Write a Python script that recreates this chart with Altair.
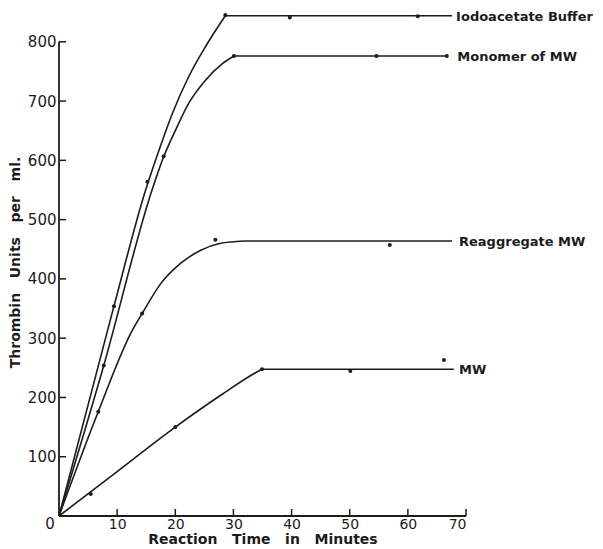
import altair as alt
import pandas as pd

# ---- data ----
SERIES = ["Iodoacetate Buffer", "Monomer of MW", "Reaggregate MW", "MW"]

# rising part of each curve (knots)
IODO_RISE_X = [0, 9.45, 14.9, 17.2, 19.5, 22.3, 25.2, 28.6]
IODO_RISE_Y = [0, 354, 550, 617, 679, 741, 792, 844]
MONO_RISE_X = [0, 7.7, 16.0, 18.0, 20.05, 22.3, 25.2, 28.1, 30.1]
MONO_RISE_Y = [0, 254, 550, 606, 651, 696, 735, 763, 776]
REAG_RISE_X = [0, 6.75, 12.6, 14.3, 17.5, 20.9, 24.3, 27.8, 31.8]
REAG_RISE_Y = [0, 176, 313, 341.5, 392, 426, 448, 460, 464]
MW_RISE_X = [0, 10, 20, 28, 33.5, 34.9]
MW_RISE_Y = [0, 75, 150, 205, 240, 247.5]

# plateau of each curve
PLATEAU_START_X = [28.6, 30.1, 31.8, 34.9]
PLATEAU_END_X = [67.6, 66.7, 67.6, 67.9]
PLATEAU_Y = [844, 776, 464, 247.5]

# where each curve label begins
LABEL_X = [68.3, 68.5, 68.8, 68.8]

# measured points
IODO_PTS_X = [9.45, 15.2, 28.6, 39.7, 61.7]
IODO_PTS_Y = [354, 564, 845, 841, 843]
MONO_PTS_X = [7.7, 18.0, 30.1, 54.6, 66.7]
MONO_PTS_Y = [254, 607, 776, 776, 776]
REAG_PTS_X = [6.75, 14.3, 26.9, 56.9]
REAG_PTS_Y = [176, 341.5, 466, 457]
MW_PTS_X = [5.45, 20.0, 34.9, 50.1, 66.2]
MW_PTS_Y = [37, 150, 247.5, 244.5, 263]

X_TICKS = [10, 20, 30, 40, 50, 60, 70]
Y_TICKS = [100, 200, 300, 400, 500, 600, 700, 800]
X_MAX = 70
Y_AXIS_MAX = 800

X_TITLE = "Reaction\u00a0\u00a0\u00a0Time\u00a0\u00a0\u00a0in\u00a0\u00a0\u00a0Minutes"
Y_TITLE = "Thrombin\u00a0\u00a0\u00a0Units\u00a0\u00a0\u00a0per\u00a0\u00a0\u00a0ml."

# ---- build tables ----
rises = [(IODO_RISE_X, IODO_RISE_Y), (MONO_RISE_X, MONO_RISE_Y),
         (REAG_RISE_X, REAG_RISE_Y), (MW_RISE_X, MW_RISE_Y)]
pts = [(IODO_PTS_X, IODO_PTS_Y), (MONO_PTS_X, MONO_PTS_Y),
       (REAG_PTS_X, REAG_PTS_Y), (MW_PTS_X, MW_PTS_Y)]

line_rows, flat_rows, pt_rows, lab_rows = [], [], [], []
for i, name in enumerate(SERIES):
    xs, ys = rises[i]
    for x, y in zip(xs, ys):
        line_rows.append({"x": x, "y": y, "seg": name + " rise"})
    flat_rows.append({"x": PLATEAU_START_X[i], "y": PLATEAU_Y[i], "seg": name + " flat"})
    flat_rows.append({"x": PLATEAU_END_X[i], "y": PLATEAU_Y[i], "seg": name + " flat"})
    px, py = pts[i]
    for x, y in zip(px, py):
        pt_rows.append({"x": x, "y": y, "series": name})
    lab_rows.append({"x": LABEL_X[i], "y": PLATEAU_Y[i], "label": name})

lines_df = pd.DataFrame(line_rows)
flat_df = pd.DataFrame(flat_rows)
pts_df = pd.DataFrame(pt_rows)
lab_df = pd.DataFrame(lab_rows)
xt_df = pd.DataFrame({"v": X_TICKS})
yt_df = pd.DataFrame({"v": Y_TICKS})

INK = "#1c1c1c"
FONT = "DejaVu Sans"

xscale = alt.Scale(domain=[0, 70], nice=False, zero=True)
yscale = alt.Scale(domain=[0, 857], nice=False, zero=True)

xenc = alt.X("x:Q", scale=xscale, axis=alt.Axis(
    title=X_TITLE, values=X_TICKS, grid=False, ticks=False, tickSize=0, domain=False,
    labelFont=FONT, labelFontSize=14, labelColor=INK, labelPadding=1,
    titleFont=FONT, titleFontSize=14, titleFontWeight="bold", titleColor=INK,
    titlePadding=1))
yenc = alt.Y("y:Q", scale=yscale, axis=alt.Axis(
    title=Y_TITLE, values=Y_TICKS, grid=False, ticks=False, tickSize=0, domain=False,
    labelFont=FONT, labelFontSize=15, labelColor=INK, labelPadding=3,
    titleFont=FONT, titleFontSize=14, titleFontWeight="bold", titleColor=INK,
    titlePadding=5))

rise = alt.Chart(lines_df).mark_line(
    interpolate="monotone", color=INK, strokeWidth=1.6
).encode(x=xenc, y=yenc, detail="seg:N", order="x:Q")

flat = alt.Chart(flat_df).mark_line(color=INK, strokeWidth=1.6).encode(
    x=alt.X("x:Q", scale=xscale), y=alt.Y("y:Q", scale=yscale), detail="seg:N")

points = alt.Chart(pts_df).mark_point(
    filled=True, size=16, color=INK, opacity=1
).encode(x=alt.X("x:Q", scale=xscale), y=alt.Y("y:Q", scale=yscale))

labels = alt.Chart(lab_df).mark_text(
    align="left", baseline="middle", dy=1, font=FONT, fontSize=13,
    fontWeight="bold", color=INK
).encode(x=alt.X("x:Q", scale=xscale), y=alt.Y("y:Q", scale=yscale), text="label:N")

y_domain = alt.Chart(pd.DataFrame({"a": [0]})).mark_rule(color=INK, strokeWidth=1.8).encode(
    x=alt.datum(0, scale=xscale), y=alt.datum(0, scale=yscale), y2=alt.datum(Y_AXIS_MAX))
x_domain = alt.Chart(pd.DataFrame({"a": [0]})).mark_rule(color=INK, strokeWidth=1.8).encode(
    y=alt.datum(0, scale=yscale), x=alt.datum(0, scale=xscale), x2=alt.datum(X_MAX))

y_ticks = alt.Chart(yt_df).mark_tick(
    orient="horizontal", size=7, thickness=1.5, color=INK, xOffset=3.5, opacity=1
).encode(y=alt.Y("v:Q", scale=yscale), x=alt.datum(0, scale=xscale))
x_ticks = alt.Chart(xt_df).mark_tick(
    orient="vertical", size=7, thickness=1.5, color=INK, yOffset=-3.5, opacity=1
).encode(x=alt.X("v:Q", scale=xscale), y=alt.datum(0, scale=yscale))

origin = alt.Chart(pd.DataFrame({"t": ["0"]})).mark_text(
    align="center", baseline="middle", dx=-9, dy=8, font=FONT, fontSize=15, color=INK
).encode(x=alt.datum(0, scale=xscale), y=alt.datum(0, scale=yscale), text="t:N")

chart = alt.layer(
    rise, flat, points, labels, y_domain, x_domain, y_ticks, x_ticks, origin
).properties(
    width=407, height=508,
    padding={"left": 0, "top": 0, "right": 0, "bottom": 0},
    background="white",
).configure_view(stroke=None)

chart.save("out.html", embed_options={"renderer": "svg", "actions": False})
